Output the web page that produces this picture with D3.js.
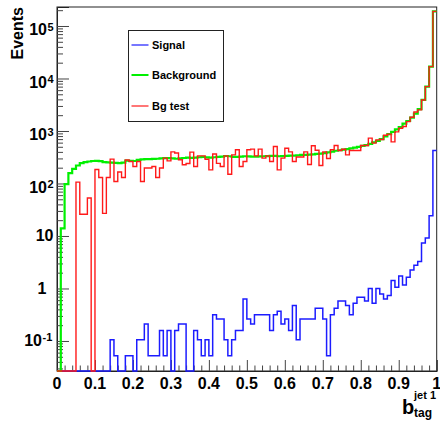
<!DOCTYPE html>
<html><head><meta charset="utf-8">
<script src="https://cdn.jsdelivr.net/npm/d3@7"></script>
<style>
body{margin:0;background:#fff}
svg{display:block}
text{font-family:"Liberation Sans",Arial,Helvetica,sans-serif;font-weight:bold;fill:#000}
</style>
</head><body>
<svg id="c" width="440" height="425"></svg>
<script>
// ---------- data ----------
const nBins = 100;
const xDomain = [0, 1];
const yDomain = [0.0268, 2.3e5];

const signal = [
  0,0,0,0,0,0,0,0,0,0,
  0,0,0,0,0.105,0.0525,0,0,0.0525,0.0525,
  0,0.105,0.105,0.21,0.0525,0.0525,0.0525,0.158,0.0525,0.158,
  0,0.158,0.21,0.21,0,0,0.158,0.105,0.0525,0.105,
  0.0525,0.315,0.263,0.263,0.105,0.0525,0.105,0.158,0.158,0.63,
  0.263,0.21,0.315,0.315,0.315,0.315,0.158,0.315,0.368,0.21,
  0.263,0.158,0.473,0.105,0.263,0.263,0.263,0.263,0.42,0.42,
  0.263,0.0525,0.315,0.42,0.578,0.578,0.473,0.315,0.525,0.683,
  0.683,0.578,0.998,0.525,0.998,0.788,0.63,0.735,1.42,1.05,
  1.73,1.16,1.63,2.26,2.78,3.26,7.35,9.14,24.3,425
];

const background = [
  0,14,97,158,190,220,244,256,262,268,
  270,266,256,252,250,248,244,250,272,270,
  268,282,288,290,292,295,296,300,304,303,
  300,296,300,306,312,308,312,316,320,315,
  312,316,320,326,334,330,322,320,325,330,
  328,326,325,328,330,332,336,335,330,332,
  335,338,340,345,350,352,356,360,365,372,
  380,390,405,420,430,440,450,465,480,500,
  520,540,570,610,650,700,790,870,960,1070,
  1180,1380,1550,1800,2150,2600,3900,7000,16800,190000
];

const bgTest = [
  0,0,0,0,0,106,26,26,53,0,
  185,130,27,130,291,109,165,130,280,262,
  211,262,109,197,197,211,130,197,304,270,
  400,380,284,228,240,396,211,335,335,290,
  182,364,242,211,335,150,350,438,211,262,
  438,452,335,452,304,335,262,506,182,304,
  470,400,262,320,320,400,230,525,430,220,
  400,300,440,528,425,450,351,425,425,425,
  528,528,731,586,678,690,830,870,620,960,
  1130,1220,1510,1830,2300,2520,3900,7000,16800,190000
];

const xTickValues = [0,0.1,0.2,0.3,0.4,0.5,0.6,0.7,0.8,0.9,1];
const xTickLabels = ["0","0.1","0.2","0.3","0.4","0.5","0.6","0.7","0.8","0.9","1"];
const yTickValues = [1e5,1e4,1e3,1e2,10,1,0.1];
const yTickBase = ["10","10","10","10","10","1","10"];
const yTickExp  = ["5","4","3","2","","","-1"];
const legendLabels = ["Signal","Background","Bg test"];
const seriesColors = ["#1c1cff","#00f000","#ff1a1a"];

// ---------- layout ----------
const L = 57, R = 436.7, T = 7, B = 371;
const svg = d3.select("#c");
const x = d3.scaleLinear().domain(xDomain).range([L, R]);
const y = d3.scaleLog().domain(yDomain).range([B, T]).clamp(true);

// frame
svg.append("rect").attr("x",L).attr("y",T).attr("width",R-L).attr("height",B-T)
  .attr("fill","none").attr("stroke","#222").attr("stroke-width",1);

// x axis
const xMinor = d3.range(0, 101, 2).map(d => d/100).filter(v => Math.abs(v*10 - Math.round(v*10)) > 1e-6);
const gx = svg.append("g").attr("transform",`translate(0,${B})`);
gx.call(d3.axisBottom(x).tickValues(xTickValues).tickSize(-11).tickFormat(""));
gx.call(g => g.select(".domain").attr("stroke","#222"));
const gx2 = svg.append("g").attr("transform",`translate(0,${B})`);
gx2.call(d3.axisBottom(x).tickValues(xMinor).tickSize(-5.5).tickFormat(""));
gx2.select(".domain").remove();
svg.selectAll("g line").attr("stroke","#444");

xTickValues.forEach((v,i) => {
  svg.append("text").attr("x", x(v)).attr("y", 388.5).attr("text-anchor","middle")
    .attr("font-size",16).text(xTickLabels[i]);
});

// y axis
const yMinor = [];
for (let e = -2; e <= 5; e++) for (let m = 2; m <= 9; m++) {
  const v = m * Math.pow(10, e);
  if (v >= yDomain[0] && v <= yDomain[1]) yMinor.push(v);
}
const gy = svg.append("g").attr("transform",`translate(${L},0)`);
gy.call(d3.axisLeft(y).tickValues(yTickValues).tickSize(-12).tickFormat(""));
gy.select(".domain").attr("stroke","#222");
const gy2 = svg.append("g").attr("transform",`translate(${L},0)`);
gy2.call(d3.axisLeft(y).tickValues(yMinor).tickSize(-6).tickFormat(""));
gy2.select(".domain").remove();
gy.selectAll("line").attr("stroke","#444");
gy2.selectAll("line").attr("stroke","#444");

yTickValues.forEach((v,i) => {
  const ty = y(v);
  const base = yTickBase[i], ex = yTickExp[i];
  if (ex === "") {
    const rx = base === "1" ? 46.5 : 53.5;
    svg.append("text").attr("x", rx).attr("y", ty + 5.5).attr("text-anchor","end")
      .attr("font-size",16).text(base);
  } else if (ex.startsWith("-")) {
    svg.append("text").attr("x", 42).attr("y", ty + 5.5).attr("text-anchor","end")
      .attr("font-size",16).text(base);
    svg.append("text").attr("x", 42.5).attr("y", ty + 0.5).attr("text-anchor","start")
      .attr("font-size",11).text(ex);
  } else {
    svg.append("text").attr("x", 47).attr("y", ty + 9.5).attr("text-anchor","end")
      .attr("font-size",16).text(base);
    svg.append("text").attr("x", 47.5).attr("y", ty + 5).attr("text-anchor","start")
      .attr("font-size",11).text(ex);
  }
});

// axis titles
svg.append("text").attr("transform","translate(23,7) rotate(-90)").attr("text-anchor","end")
  .attr("font-size",16).text("Events");
svg.append("text").attr("x",402).attr("y",413.5).attr("font-size",20).text("b");
svg.append("text").attr("x",414).attr("y",417).attr("font-size",12).text("tag");
svg.append("text").attr("x",414).attr("y",399).attr("font-size",11).text("jet 1");

// histograms
svg.append("clipPath").attr("id","clip").append("rect")
  .attr("x",L).attr("y",T).attr("width",R-L).attr("height",B-T+1);

function histPath(vals) {
  let p = "";
  vals.forEach((v,i) => {
    const x0 = x(i/nBins), x1 = x((i+1)/nBins);
    const yy = v > 0 ? y(v) : B;
    p += (i === 0 ? `M${x0},${yy}` : `V${yy}`) + `H${x1}`;
  });
  return p;
}
const plot = svg.append("g").attr("clip-path","url(#clip)");
plot.append("path").attr("d",histPath(signal)).attr("fill","none")
  .attr("stroke",seriesColors[0]).attr("stroke-width",1.5);
plot.append("path").attr("d",histPath(background)).attr("fill","none")
  .attr("stroke",seriesColors[1]).attr("stroke-width",2.2);
plot.append("path").attr("d",histPath(bgTest)).attr("fill","none")
  .attr("stroke",seriesColors[2]).attr("stroke-width",1.4);

// legend
const lg = svg.append("g");
lg.append("rect").attr("x",128.5).attr("y",30.5).attr("width",95).attr("height",91)
  .attr("fill","#fff").attr("stroke","#222").attr("stroke-width",1);
const legY = [45, 75, 106];
legendLabels.forEach((lab,i) => {
  lg.append("line").attr("x1",131.5).attr("x2",148.5).attr("y1",legY[i]).attr("y2",legY[i])
    .attr("stroke",seriesColors[i]).attr("stroke-width", i===1 ? 2 : 1.2);
  lg.append("text").attr("x",152).attr("y",legY[i]+4).attr("font-size",11).text(lab);
});
</script>
</body></html>
